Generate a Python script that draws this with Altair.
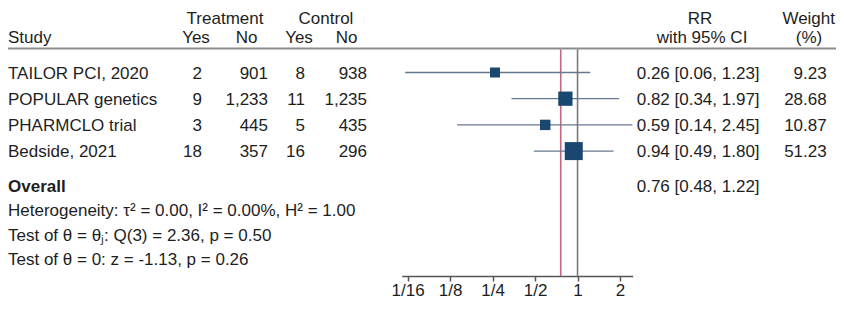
import altair as alt
import pandas as pd

# ---- data ----
studies = ["TAILOR PCI, 2020", "POPULAR genetics", "PHARMCLO trial", "Bedside, 2021"]
treat_yes = [2, 9, 3, 18]
treat_no = [901, 1233, 445, 357]
ctrl_yes = [8, 11, 5, 16]
ctrl_no = [938, 1235, 435, 296]
rr = [0.26, 0.82, 0.59, 0.94]
rr_lo = [0.06, 0.34, 0.14, 0.49]
rr_hi = [1.23, 1.97, 2.45, 1.80]
weight = [9.23, 28.68, 10.87, 51.23]
overall_rr, overall_lo, overall_hi = 0.76, 0.48, 1.22
tick_values = [1 / 16, 1 / 8, 1 / 4, 1 / 2, 1, 2]
tick_labels = ["1/16", "1/8", "1/4", "1/2", "1", "2"]
stat_lines = [
    "Heterogeneity: \u03c4\u00b2 = 0.00, I\u00b2 = 0.00%, H\u00b2 = 1.00",
    "Test of \u03b8 = \u03b8\u2c7c: Q(3) = 2.36, p = 0.50",
    "Test of \u03b8 = 0: z = -1.13, p = 0.26",
]

# ---- layout (row units on the y scale) ----
study_rows = [0, 1, 2, 3]
overall_row = 4.32
stat_rows = [5.26, 6.2, 7.13]
diamond_half = 0.29

FONT = "Liberation Sans"
FS = 17
TXT = "#1e1e1e"
W, H = 828, 268
ROW0, ROWSTEP = 64.5, 26.2
HDR1, HDR2, RULE_Y = 15.5, 35, 40.5

df = pd.DataFrame({
    "study": studies,
    "ty": [f"{v:,}" for v in treat_yes],
    "tn": [f"{v:,}" for v in treat_no],
    "cy": [f"{v:,}" for v in ctrl_yes],
    "cn": [f"{v:,}" for v in ctrl_no],
    "rr": rr, "lo": rr_lo, "hi": rr_hi,
    "weight": weight,
    "rrtxt": [f"{a:.2f} [{b:.2f}, {c:.2f}]" for a, b, c in zip(rr, rr_lo, rr_hi)],
    "wtxt": [f"{w:.2f}" for w in weight],
    "row": study_rows,
})

yscale = alt.Scale(domain=[0, 10], range=[ROW0, ROW0 + 10 * ROWSTEP])
xscale = alt.Scale(type="log", base=2, domain=[0.0567, 2.46], range=[393.7, 624.7])
Y = alt.Y("row:Q", scale=yscale, axis=None)

label_map = "{" + ",".join(f"'{v}':'{l}'" for v, l in zip(tick_values, tick_labels)) + "}"
label_expr = f"{label_map}[toString(datum.value)] || datum.label"


def col_text(field, xpx, align, bold=False, data=df):
    return alt.Chart(data).mark_text(
        align=align, baseline="alphabetic", dy=6, font=FONT, fontSize=FS,
        color=TXT, fontWeight="bold" if bold else "normal"
    ).encode(x=alt.value(xpx), y=Y, text=f"{field}:N")


def header(text, xpx, ypx, align="center"):
    return alt.Chart(pd.DataFrame({"t": [text]})).mark_text(
        align=align, baseline="alphabetic", font=FONT, fontSize=FS, color=TXT
    ).encode(x=alt.value(xpx), y=alt.value(ypx), text="t:N")


layers = []

# header
layers += [
    header("Treatment", 217, HDR1), header("Control", 318, HDR1),
    header("RR", 692, HDR1), header("Weight", 827, HDR1, "right"),
    header("Study", 0, HDR2, "left"),
    header("Yes", 188, HDR2), header("No", 238.5, HDR2),
    header("Yes", 291, HDR2), header("No", 338.5, HDR2),
    header("with 95% CI", 694, HDR2), header("(%)", 801, HDR2),
]
layers.append(
    alt.Chart(pd.DataFrame({"a": [0]})).mark_rule(color="#8c8c8c", strokeWidth=2).encode(
        x=alt.value(0), x2=alt.value(W), y=alt.value(RULE_Y)
    )
)

# reference lines
ref = pd.DataFrame({"v": [overall_rr, 1.0], "c": ["#c4677e", "#7a7a7a"]})
layers.append(
    alt.Chart(ref).mark_rule(strokeWidth=1.6).encode(
        x=alt.X("v:Q", scale=xscale),
        y=alt.value(RULE_Y + 1), y2=alt.value(H),
        color=alt.Color("c:N", scale=None),
    )
)

# study columns
layers += [
    col_text("study", 0, "left"),
    col_text("ty", 194, "right"),
    col_text("tn", 260, "right"),
    col_text("cy", 297, "right"),
    col_text("cn", 359, "right"),
    col_text("rrtxt", 628.7, "left"),
    col_text("wtxt", 818.7, "right"),
]

# CI lines + squares (these carry the x axis)
layers.append(
    alt.Chart(df).mark_rule(color="#66788f", strokeWidth=1.3).encode(
        x=alt.X("lo:Q", scale=xscale, title=None,
                axis=alt.Axis(values=tick_values, labelExpr=label_expr, grid=False,
                              domainColor="#555555", tickColor="#555555", domainWidth=1.5,
                              tickWidth=1.5, tickSize=5, labelPadding=14,
                              labelBaseline="alphabetic",
                              labelFont=FONT, labelFontSize=FS, labelColor=TXT,
                              labelFlush=False, labelOverlap=False)),
        x2="hi:Q", y=Y,
    )
)
wmin, wmax = min(weight), max(weight)
layers.append(
    alt.Chart(df).mark_square(filled=True, color="#1a476f", opacity=1).encode(
        x=alt.X("rr:Q", scale=xscale), y=Y,
        size=alt.Size("weight:Q", scale=alt.Scale(domain=[wmin, wmax], range=[100, 324]), legend=None),
    )
)

# overall diamond
dia = pd.DataFrame({
    "x": [overall_lo, overall_rr, overall_hi],
    "row": [overall_row, overall_row - diamond_half, overall_row],
    "row2": [overall_row, overall_row + diamond_half, overall_row],
    "o": [0, 1, 2],
})
layers.append(
    alt.Chart(dia).mark_area(color="#55752f", orient="vertical", opacity=1).encode(
        x=alt.X("x:Q", scale=xscale), y=Y, y2="row2:Q", order="o:Q"
    )
)

ov = pd.DataFrame({"row": [overall_row], "label": ["Overall"],
                   "txt": [f"{overall_rr:.2f} [{overall_lo:.2f}, {overall_hi:.2f}]"]})
layers += [col_text("label", 0, "left", bold=True, data=ov), col_text("txt", 628.7, "left", data=ov)]

st = pd.DataFrame({"row": stat_rows, "txt": stat_lines})
layers.append(col_text("txt", 0, "left", data=st))

chart = alt.layer(*layers).properties(
    width=W, height=H,
    autosize=alt.AutoSizeParams(type="none"),
    padding={"left": 0, "right": 0, "top": 0, "bottom": 27},
).configure_view(stroke=None).resolve_scale(color="independent")

chart.save("out.html", embed_options={"renderer": "svg", "actions": False})
